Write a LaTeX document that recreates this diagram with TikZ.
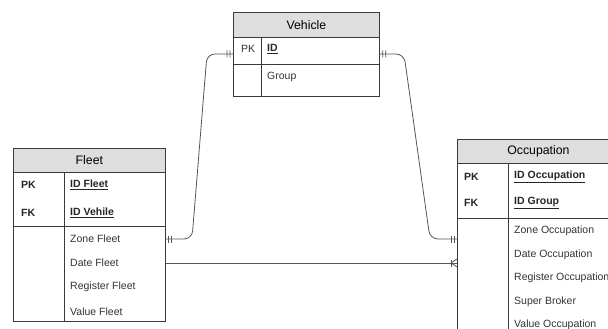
\documentclass[tikz,border=0pt]{standalone}
\usepackage{fontspec}
\setmainfont{Liberation Sans}
\usepackage{xcolor}
\usepackage{tikz}
\usetikzlibrary{positioning, decorations.markings}

\definecolor{hdrgray}{HTML}{DEDEDE}
\definecolor{edgegray}{HTML}{3A3A3A}
\definecolor{linkgray}{HTML}{555555}

\begin{document}
\begin{tikzpicture}[x=1pt, y=-1pt,
  tbl/.style={draw=edgegray, line width=0.8pt, inner sep=0pt, anchor=north west},
  hdr/.style={tbl, fill=hdrgray, font=\fontsize{12.3}{14}\selectfont},
  key/.style={anchor=west, inner sep=0pt, text=black!85, font=\fontsize{10.5}{12}\selectfont\bfseries},
  fld/.style={anchor=west, inner sep=0pt, text=black!80, font=\fontsize{10.5}{12}\selectfont},
  link/.style={draw=linkgray, line width=0.8pt, rounded corners=8pt},
  tick/.style={draw=linkgray, line width=0.8pt, sharp corners},
  oneS/.style={postaction={decorate, decoration={markings,
      mark=at position 3pt with {\draw[tick] (0pt,-3.5pt) -- (0pt,3.5pt);},
      mark=at position 6pt with {\draw[tick] (0pt,-3.5pt) -- (0pt,3.5pt);}}}},
  oneE/.style={postaction={decorate, decoration={markings,
      mark=at position -3pt with {\draw[tick] (0pt,-3.5pt) -- (0pt,3.5pt);},
      mark=at position -6pt with {\draw[tick] (0pt,-3.5pt) -- (0pt,3.5pt);}}}},
  manyE/.style={postaction={decorate, decoration={markings,
      mark=at position -6pt with {\draw[tick] (0pt,-3.5pt) -- (0pt,3.5pt);
        \draw[tick] (0pt,0pt) -- (6pt,4pt); \draw[tick] (0pt,0pt) -- (6pt,-4pt);}}}}
]
\useasboundingbox (0,0) rectangle (608,329);
\clip (0,0) rectangle (608,329);

% Vehicle
\node[hdr, minimum width=146pt, minimum height=25pt] (vhead) at (233,12) {Vehicle};
\node[tbl, minimum width=146pt, minimum height=27pt] (vkey) at (233,37) {};
\node[tbl, minimum width=146pt, minimum height=32pt] (vattr) at (233,64) {};
\draw[draw=edgegray, line width=0.8pt] ([xshift=28pt]vkey.north west) -- ([xshift=28pt]vattr.south west);
\node[fld] (vpk) at (241,49) {PK};
\node[key] (vid) at (267,49) {\underline{ID}};
\node[fld] (vgroup) at (267,77) {Group};

% Fleet
\node[hdr, minimum width=152pt, minimum height=24pt] (fhead) at (13,148) {Fleet};
\node[tbl, minimum width=152pt, minimum height=54pt] (fkey) at (13,172) {};
\node[tbl, minimum width=152pt, minimum height=95pt] (fattr) at (13,226) {};
\draw[draw=edgegray, line width=0.8pt] ([xshift=51pt]fkey.north west) -- ([xshift=51pt]fattr.south west);
\node[key] (fpk) at (21,185) {PK};
\node[key] (ffk) at (21,213) {FK};
\node[key] (fid) at (70,185) {\underline{ID Fleet}};
\node[key] (fveh) at (70,213) {\underline{ID Vehile}};
\node[fld] (fzone) at (70,239) {Zone Fleet};
\node[fld] (fdate) at (70,263) {Date Fleet};
\node[fld] (freg) at (70,287) {Register Fleet};
\node[fld] (fval) at (70,312) {Value Fleet};

% Occupation
\node[hdr, minimum width=162pt, minimum height=24pt] (ohead) at (457,139) {Occupation};
\node[tbl, minimum width=162pt, minimum height=55pt] (okey) at (457,163) {};
\node[tbl, minimum width=162pt, minimum height=130pt] (oattr) at (457,218) {};
\draw[draw=edgegray, line width=0.8pt] ([xshift=51pt]okey.north west) -- ([xshift=51pt]oattr.south west);
\node[key] (opk) at (464,177) {PK};
\node[key] (ofk) at (464,203) {FK};
\node[key] (oid) at (514,177) {\underline{ID Occupation}};
\node[key] (ogrp) at (514,203) {\underline{ID Group}};
\node[fld] (ozone) at (514,231) {Zone Occupation};
\node[fld] (odate) at (514,255) {Date Occupation};
\node[fld] (oreg) at (514,278) {Register Occupation};
\node[fld] (obrk) at (514,302) {Super Broker};
\node[fld] (oval) at (514,325) {Value Occupation};

% relations
\draw[link, oneS, oneE] (fattr.east |- fzone) -- (192,239) -- (207,54) -- ([yshift=-3pt]vkey.west);
\draw[link, oneS, oneE] ([yshift=-3pt]vkey.east) -- (404,54) -- (430,239) -- (oattr.west |- fzone);
\draw[link, manyE] (fattr.east |- fdate) -- (oattr.west |- fdate);
\end{tikzpicture}
\end{document}
